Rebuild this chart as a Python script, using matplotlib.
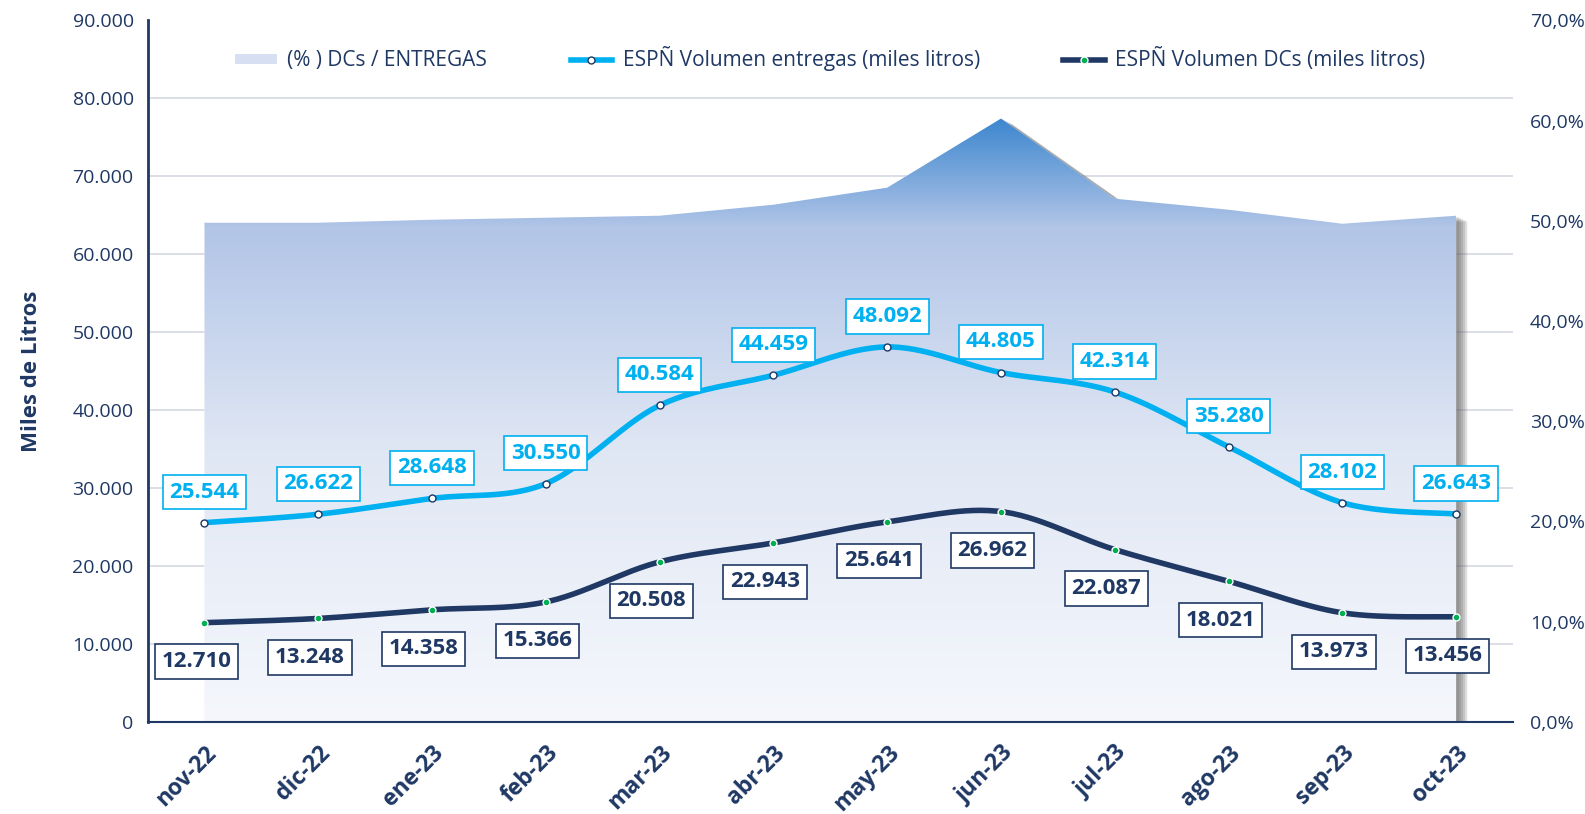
import numpy as np
import matplotlib
matplotlib.use("Agg")
import matplotlib.pyplot as plt
from matplotlib.colors import LinearSegmentedColormap
from matplotlib.patches import Polygon, Patch
from matplotlib.lines import Line2D
import matplotlib.patheffects as pe
from matplotlib.ticker import FuncFormatter

# Datos
meses = ['nov-22', 'dic-22', 'ene-23', 'feb-23', 'mar-23', 'abr-23',
         'may-23', 'jun-23', 'jul-23', 'ago-23', 'sep-23', 'oct-23']
entregas = [25544, 26622, 28648, 30550, 40584, 44459, 48092, 44805, 42314, 35280, 28102, 26643]
dcs = [12710, 13248, 14358, 15366, 20508, 22943, 25641, 26962, 22087, 18021, 13973, 13456]
pct_dcs = [49.8, 49.8, 50.1, 50.3, 50.5, 51.6, 53.3, 60.2, 52.2, 51.1, 49.7, 50.5]

NAVY = '#1F3864'
CYAN = '#00B0F0'
GREEN = '#00B050'
GRID = '#D5D8E0'

plt.rcParams['font.family'] = ['Open Sans', 'DejaVu Sans']


def suavizar(xs, ys, n=30):
    # curva tipo Excel (Catmull-Rom) entre los puntos
    xs = np.asarray(xs, float)
    ys = np.asarray(ys, float)
    px = np.concatenate([[xs[0]], xs, [xs[-1]]])
    py = np.concatenate([[ys[0]], ys, [ys[-1]]])
    ox, oy = [], []
    t = np.linspace(0, 1, n)
    for i in range(1, len(px) - 2):
        x0, x1, x2, x3 = px[i - 1:i + 3]
        y0, y1, y2, y3 = py[i - 1:i + 3]
        cx1, cy1 = x1 + (x2 - x0) / 6, y1 + (y2 - y0) / 6
        cx2, cy2 = x2 - (x3 - x1) / 6, y2 - (y3 - y1) / 6
        bx = (1 - t) ** 3 * x1 + 3 * (1 - t) ** 2 * t * cx1 + 3 * (1 - t) * t ** 2 * cx2 + t ** 3 * x2
        by = (1 - t) ** 3 * y1 + 3 * (1 - t) ** 2 * t * cy1 + 3 * (1 - t) * t ** 2 * cy2 + t ** 3 * y2
        ox.extend(bx)
        oy.extend(by)
    return np.array(ox), np.array(oy)


x = np.arange(len(meses))

fig = plt.figure(figsize=(15.85, 8.14), dpi=100)
ax_pct = fig.add_axes([0.0931, 0.1134, 0.8615, 0.8616])
ax_vol = ax_pct.twinx()

# --- eje de porcentaje (derecha) con el area ---
ax_pct.yaxis.tick_right()
ax_pct.set_ylim(0, 70)
ax_pct.set_yticks(np.arange(0, 71, 10))
ax_pct.yaxis.set_major_formatter(FuncFormatter(lambda v, p: f'{v:.1f}%'.replace('.', ',')))
ax_pct.set_yticks(np.linspace(0, 70, 10), minor=True)
ax_pct.grid(which='minor', axis='y', color=GRID, lw=1.2)
ax_pct.tick_params(axis='y', which='both', length=0, labelsize=14, labelcolor=NAVY, pad=12)
ax_pct.set_axisbelow(True)

# sombra difusa del area (varias capas)
verts = [(x[0], 0)] + list(zip(x, pct_dcs)) + [(x[-1], 0)]
capas = [pe.SimplePatchShadow(offset=(o, -o * 0.5), shadow_rgbFace='#606060', alpha=0.2)
         for o in (8, 6.5, 5, 3.5, 2)]
sombra = Polygon(verts, closed=True, facecolor='white', edgecolor='none', zorder=1.5,
                 path_effects=capas + [pe.Normal()])
ax_pct.add_patch(sombra)
clip = Polygon(verts, closed=True, facecolor='none', edgecolor='none')
ax_pct.add_patch(clip)
cmap = LinearSegmentedColormap.from_list('grad', [(0, '#F5F7FC'), (0.45, '#E0E7F4'),
                                                 (0.82, '#B2C5E7'), (1.0, '#3D87CF')])
grad = np.linspace(0, 1, 256).reshape(-1, 1)
img = ax_pct.imshow(grad, extent=[x[0], x[-1], 0, max(pct_dcs)], origin='lower', aspect='auto',
                    cmap=cmap, zorder=2)
img.set_clip_path(clip)
ax_pct.set_xlim(-0.5, len(meses) - 0.5)
ax_pct.set_ylim(0, 70)

# eje x (en el eje inferior, el gemelo lo oculta)
ax_pct.set_xticks(x)
ax_pct.set_xticklabels(meses, rotation=45, ha='right', rotation_mode='anchor',
                       fontsize=16.5, fontweight='bold', color=NAVY)
ax_pct.tick_params(axis='x', length=0, pad=14)

# --- eje de volumen (izquierda) con las lineas ---
ax_vol.yaxis.tick_left()
ax_vol.yaxis.set_label_position('left')
ax_vol.set_ylim(0, 90000)
ax_vol.set_yticks(np.arange(0, 90001, 10000))
ax_vol.yaxis.set_major_formatter(FuncFormatter(lambda v, p: f'{int(v):,}'.replace(',', '.')))
ax_vol.tick_params(axis='y', length=0, labelsize=14, labelcolor=NAVY, pad=10)
ax_vol.set_ylabel('Miles de Litros', fontsize=16, fontweight='bold', color=NAVY, labelpad=22)

sx, sy = suavizar(x, entregas)
ax_vol.plot(sx, sy, color=CYAN, lw=4, solid_capstyle='round', zorder=3)
ax_vol.plot(x, entregas, ls='none', marker='o', ms=5, mfc='white', mec=NAVY, mew=1, zorder=4)
sx, sy = suavizar(x, dcs)
ax_vol.plot(sx, sy, color=NAVY, lw=4, solid_capstyle='round', zorder=3)
ax_vol.plot(x, dcs, ls='none', marker='o', ms=5, mfc=GREEN, mec='white', mew=1, zorder=4)

for xi, v in zip(x, entregas):
    ax_vol.annotate(f'{v:,}'.replace(',', '.'), (xi, v), xytext=(0, 22), textcoords='offset points',
                    ha='center', va='center', fontsize=16, fontweight='bold', color=CYAN, zorder=5,
                    bbox=dict(boxstyle='square,pad=0.3', fc='white', ec=CYAN, lw=1.2))
for xi, v in zip(x, dcs):
    ax_vol.annotate(f'{v:,}'.replace(',', '.'), (xi, v), xytext=(-6, -28), textcoords='offset points',
                    ha='center', va='center', fontsize=16, fontweight='bold', color=NAVY, zorder=5,
                    bbox=dict(boxstyle='square,pad=0.3', fc='white', ec=NAVY, lw=1.2))

# ejes
ax_vol.set_xlim(-0.5, len(meses) - 0.5)
for a in (ax_pct, ax_vol):
    for s in ('top', 'right', 'left', 'bottom'):
        a.spines[s].set_visible(False)
ax_vol.spines['left'].set_visible(True)
ax_vol.spines['left'].set_color(NAVY)
ax_vol.spines['left'].set_linewidth(2)
ax_vol.spines['bottom'].set_visible(True)
ax_vol.spines['bottom'].set_color(NAVY)
ax_vol.spines['bottom'].set_linewidth(1.5)

# leyenda
handles = [
    Patch(facecolor='#D6E0F2', edgecolor='none', label='(% ) DCs / ENTREGAS'),
    Line2D([], [], color=CYAN, lw=4, marker='o', ms=5, mfc='white', mec=NAVY,
           label='ESPÑ Volumen entregas (miles litros)'),
    Line2D([], [], color=NAVY, lw=4, marker='o', ms=5, mfc=GREEN, mec='white',
           label='ESPÑ Volumen DCs (miles litros)'),
]
leg = ax_vol.legend(handles=handles, ncol=3, loc='center', bbox_to_anchor=(0.5, 0.945),
                    frameon=False, fontsize=15, handlelength=2, handleheight=0.3,
                    columnspacing=4, handletextpad=0.5)
for t in leg.get_texts():
    t.set_color(NAVY)

fig.savefig('out.png', dpi=100)
